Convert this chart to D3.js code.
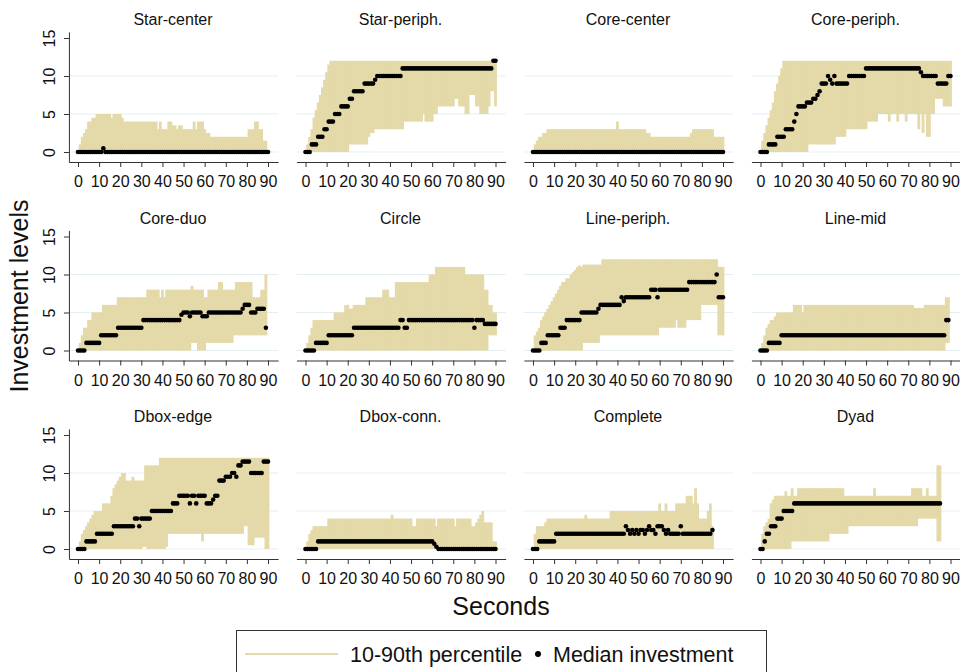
<!DOCTYPE html>
<html>
<head>
<meta charset="utf-8">
<script src="https://cdn.jsdelivr.net/npm/d3@7"></script>
<style>
  html, body { margin: 0; padding: 0; background: #fff; }
  svg { display: block; font-family: "Liberation Sans", Arial, sans-serif; }
</style>
</head>
<body>
<svg id="chart" width="960" height="672"></svg>
<script>
// ---------------- DATA (per second, t = 0,1,2,...) ----------------
const panelTitles = ["Star-center","Star-periph.","Core-center","Core-periph.",
                     "Core-duo","Circle","Line-periph.","Line-mid",
                     "Dbox-edge","Dbox-conn.","Complete","Dyad"];
const xTickValues = [0,10,20,30,40,50,60,70,80,90];
const yTickValues = [0,5,10,15];
const gridValues = [0,5,10];
const legendLabels = ["10-90th percentile","Median investment"];

// Star-center
const scUpper = [0,1,2,2.5,3,4,4,4.5,4.5,5, 5,5,5,5,5,5,4.5,5,5,5, 5,4.5,4,4,4,4,4,4,4,4, 4,4,4,4,4,4,4,4,3,4,
  3,3,3,4,4,3.5,3.5,3,3.5,3.5, 3,3,3,3,3,4,3,4,4,4, 3,2.5,2.5,2,2,2,2,2,2,2, 2,2,2,2,2,2,2,2,2,2,
  2,3,3,3,4,4,3,3,1.5,1.5, 0];
const scLower = [0,0,0,0,0,0,0,0,0,0, 0,0,0,0,0,0,0,0,0,0, 0,0,0,0,0,0,0,0,0,0, 0,0,0,0,0,0,0,0,0,0,
  0,0,0,0,0,0,0,0,0,0, 0,0,0,0,0,0,0,0,0,0, 0,0,0,0,0,0,0,0,0,0, 0,0,0,0,0,0,0,0,0,0, 0,0,0,0,0,0,0,0,0,0, 0];
const scMedian = [0,0,0,0,0,0,0,0,0,0, 0,0,0.5,0,0,0,0,0,0,0, 0,0,0,0,0,0,0,0,0,0, 0,0,0,0,0,0,0,0,0,0,
  0,0,0,0,0,0,0,0,0,0, 0,0,0,0,0,0,0,0,0,0, 0,0,0,0,0,0,0,0,0,0, 0,0,0,0,0,0,0,0,0,0, 0,0,0,0,0,0,0,0,0,0, 0];

// Star-periph.
const spUpper = [0,1,2,3,4.5,5.5,6.5,7.5,8.5,9.5, 10.5,11.5,12,12,12,12,12,12,12,12, 12,12,12,12,12,12,12,12,12,12,
  12,12,12,12,12,12,12,12,12,12, 12,12,12,12,12,12,12,12,12,12, 12,12,12,12,12,12,12,12,12,12,
  12,12,12,12,12,12,12,12,12,12, 12,12,12,12,12,12,12,12,12,12, 12,12,12,12,12,12,12,12,12,12, 12];
const spLower = [0,0,0,0,0,0,0,0,0,0, 0,0,0,0,0,0,0,0,0,0, 0,1,1,1,1,1,1,1,1,1, 2,2.5,2.5,3,3,3,3,3,3,3,
  3,3,3,3,3,3,3,4,4,4, 4,4,4,4,4,4,5,4,4,4, 4,5,5,6,6,6,6,6,6,6, 6,7,7,6,6,6,5,5,7.5,7.5,
  7.5,6,6,5,5,5,5,6,8,8, 6];
const spMedian = [0,0,0,1,1,1,2,2,2,3, 3,4,4,4,5,5,5,6,6,6, 6,7,7,8,8,8,8,8,9,9, 9,9,9,9.5,10,10,10,10,10,10,
  10,10,10,10,10,10,11,11,11,11, 11,11,11,11,11,11,11,11,11,11, 11,11,11,11,11,11,11,11,11,11,
  11,11,11,11,11,11,11,11,11,11, 11,11,11,11,11,11,11,11,11,12, 12];

// Core-center
const ccUpper = [0,1,1.5,2,2,2.5,2.5,3,3,3, 3,3,3,3,3,3,3,3,3,3, 3,3,3,3,3,3,3,3,3,3, 3,3,3,3,3,3,3,3,3,3,
  4,3,3,3,3,3,3,3,3,3, 3,3,3,3,2.5,2.5,2,2,2,2, 2,2,2,2,2,2,2,2,2,2, 2,2,2,2,2,2.5,3,3,3,3,
  3,3,3,3,3,3,2,2,2,2, 2];
const ccLower = [0,0,0,0,0,0,0,0,0,0, 0,0,0,0,0,0,0,0,0,0, 0,0,0,0,0,0,0,0,0,0, 0,0,0,0,0,0,0,0,0,0,
  0,0,0,0,0,0,0,0,0,0, 0,0,0,0,0,0,0,0,0,0, 0,0,0,0,0,0,0,0,0,0, 0,0,0,0,0,0,0,0,0,0, 0,0,0,0,0,0,0,0,0,0, 0];
const ccMedian = [0,0,0,0,0,0,0,0,0,0, 0,0,0,0,0,0,0,0,0,0, 0,0,0,0,0,0,0,0,0,0, 0,0,0,0,0,0,0,0,0,0,
  0,0,0,0,0,0,0,0,0,0, 0,0,0,0,0,0,0,0,0,0, 0,0,0,0,0,0,0,0,0,0, 0,0,0,0,0,0,0,0,0,0, 0,0,0,0,0,0,0,0,0,0, 0];

// Core-periph.
const cpUpper = [0,1.5,2.5,3.5,4.5,5.5,6.5,8,9,10, 11,12,12,12,12,12,12,12,12,12, 12,12,12,12,12,12,12,12,12,12,
  12,12,12,12,12,12,12,12,12,12, 12,12,12,12,12,12,12,12,12,12, 12,12,12,12,12,12,12,12,12,12,
  12,12,12,12,12,12,12,12,12,12, 12,12,12,12,12,12,12,12,12,12, 12,12,12,12,12,12,12,12,12,12, 12];
const cpLower = [0,0,0,0,0,0,0,0,0,0, 0,0,0,0,0,0,0,0,0,0, 0,0,0,1,1,1,1,1,1,1, 1,1,1,1,1,1,2,2,2,2,
  2,3,3,3,3,3,3,3,3,3, 3,4,4,4,4,4,5,5,5,5, 5,4,5,5,5,4,5,5,5,4, 5,5,5,5,5,3,5,2.5,5,2,
  2,5,5,7,7,7,7,6,6,6, 6];
const cpMedian = [0,0,0,0,1,1,1,1,2,2, 2,2,3,3,3,3,4,5,6,6, 6,6,6.5,6.5,6.5,7,7,7.5,8,9, 9,9,10,9.5,9,10,9,9,9,9,
  9,9,10,10,10,10,10,10,10,10, 11,11,11,11,11,11,11,11,11,11, 11,11,11,11,11,11,11,11,11,11,
  11,11,11,11,11,11,10.5,10,10,10, 10,10,10,10,9,9,9,9,9,10, 10];

// Core-duo (t = 0..89)
const cdUpper = [0,1,2,3,3,4,4,5,5,5, 5,5,6,6,6,6,6,6,6,7, 7,7,7,7,7,7,7,7,7,7, 7,7,7,8,8,8,8,8,8,7,
  8,7,8,8,8,8,8,8,8,8, 8,8,8,8,8.5,8,8,8,8,8, 7,7,8,8,8,8,8,9,9,8, 8,8,8,8,8,9,9,9,9,9,
  9,9,9,7,7,7,7,8,8,10];
const cdLower = [0,0,0,0,0,0,0,0,0,0, 0,0,0,0,0,0,0,0,0,0, 0,0,0,0,0,0,0,0,0,0, 0,0,0,0,0,0,0,0,0,0,
  0,0,0,0,0,0,0,0,0,0, 0,0,0,0,1,1,1,0,0,0, 0,1,1,1,1,1,1,1,1,1, 1,1,1,1,2,2,2,2,2,2,
  2,2,2,2,2,2,2,2,2,2];
const cdMedian = [0,0,0,0,1,1,1,1,1,1, 1,2,2,2,2,2,2,2,2,3, 3,3,3,3,3,3,3,3,3,3, 3,4,4,4,4,4,4,4,4,4,
  4,4,4,4,4,4,4,4,4,4.7, 5,5,5,4.5,5,5,5,5,5,4.5, 4.5,4.5,5,5,5,5,5,5,5,5, 5,5,5,5,5,5,5,5,5.5,6,
  6,6,5,5,5,5.5,5.5,5.5,5.5,3];

// Circle
const ciUpper = [0,1,2,3,4,4,4,4,4,4, 4,4,4,4,5,5,5,5,5,6, 6,5.5,5.5,6,6,6,6,6,6,7, 7,7,7,7,7,7,7,8,8,8,
  7,7,7,9,9,9,9,9,9,9, 9,9,9,9,9,9,9,9,9,10, 10,10,11,11,11,11,11,11,11,11, 11,11,11,11,11,11,10,10,10,10,
  10,10,10,10,10,8,8,6,6,5, 5];
const ciLower = [0,0,0,0,0,0,0,0,0,0, 0,0,0,0,0,0,0,0,0,0, 0,0,0,0,0,0,0,0,0,0, 0,0,0,0,0,0,0,0,0,0,
  0,0,0,0,0,0,0,0,0,0, 0,0,0,0,0,0,0,0,0,0, 0,0,0,0,0,0,0,0,0,0, 0,0,0,0,0,0,0,0,0,0,
  0,0,0,0,0,0,0,2,2,2, 2];
const ciMedian = [0,0,0,0,0,1,1,1,1,1, 1,2,2,2,2,2,2,2,2,2, 2,2,2,3,3,3,3,3,3,3, 3,3,3,3,3,3,3,3,3,3,
  3,3,3,3,3,4,4,3,3,4, 4,4,4,4,4,4,4,4,4,4, 4,4,4,4,4,4,4,4,4,4, 4,4,4,4,4,4,4,4,4,4,
  3,4,4,4,4,3.5,3.5,3.5,3.5,3.5, 3.5];

// Line-periph.
const lpUpper = [0,2,2.5,3,4,4.5,5,5.5,6,6.5, 7,7.5,8,8.5,9,9,9.5,9.5,10,10.3, 10.6,11,11.2,11,11.3,11.3,11.3,11.3,11.3,11.3,
  11.3,11.3,11.3,12,12,12,12,12,12,12, 12,12,12,12,12,12,12,12,12,12, 12,12,12,12,12,12,12,12,12,12,
  12,12,12,12,12,12,12,12,12,12, 12,12,12,12,12,12,12,12,12,12, 12,12,12,12,12,12,12,12,11,11, 11];
const lpLower = [0,0,0,0,0,0,0,0,0,0, 0,0,0,0,0,0,0,0,0,0, 0,0,0,0,1,1,1,1,1,1, 1,1,2,2,2,2,2,2,2,2,
  2,2,2,2,2,2,2,2,2,2, 2,2,2,2,2,2,2,2,2,2, 3,3,3,3,3,3,3,3,4,3, 3,3,3,4,4,4,4,4,4,4,
  6,6,6,6,6,6,6,6,2,2, 2];
const lpMedian = [0,0,0,0,1,1,1,2,2,2, 2,2,2,3,3,3,4,4,4,4, 4,4,4,5,5,5,5,5,5,5, 5,5.5,6,6,6,6,6,6,6,6,
  6,6,7,6.5,7,7,7,7,7,7, 7,7,7,7,7,7,8,8,8,7, 8,8,8,8,8,8,8,8,8,8, 8,8,8,8,9,9,9,9,9,9,
  9,9,9,9,9,9,9,10,7,7, 7];

// Line-mid (t = 0..89)
const lmUpper = [0,1,2,3,3.5,4,4,4.5,5,5, 5,5,5,5,5,5,6,6,6,6, 5,6,6,6,6,6,6,6,6,6, 6,6,6,6,6,6,6,6,6,6,
  6,6,6,6,6,6,6,6,6,6, 6,6,6,6,6,6,6,6,6,6, 6,6,6,6,6,6,6,6,6,6, 6,6,6,5.6,5.6,5.6,5.6,5.6,6,6,
  6,6,6,6,6,6,6,6,7,7];
const lmLower = [0,0,0,0,0,0,0,0,0,0, 0,0,0,0,0,0,0,0,0,0, 0,0,0,0,0,0,0,0,0,0, 0,0,0,0,0,0,0,0,0,0,
  0,0,0,0,0,0,0,0,0,0, 0,0,0,0,0,0,0,0,0,0, 0,0,0,0,0,0,0,0,0,0, 0,0,0,0,0,0,0,0,0,0,
  0,0,0,0,0,0,0,0,1,1];
const lmMedian = [0,0,0,0,1,1,1,1,1,1, 2,2,2,2,2,2,2,2,2,2, 2,2,2,2,2,2,2,2,2,2, 2,2,2,2,2,2,2,2,2,2,
  2,2,2,2,2,2,2,2,2,2, 2,2,2,2,2,2,2,2,2,2, 2,2,2,2,2,2,2,2,2,2, 2,2,2,2,2,2,2,2,2,2,
  2,2,2,2,2,2,2,2,4,4];

// Dbox-edge
const deUpper = [0,1,2,2.5,3,3.5,4,4.5,5,5, 5,5,6,6,6,6,7,8,8.5,9, 9.5,10,10,9,9,9,9.5,9,9,9,
  9,9,11,11,11,11,11,11,11,12, 12,12,12,12,12,12,12,12,12,12, 12,12,12,12,12,12,12,12,12,12,
  12,12,12,12,12,12,12,12,12,12, 12,12,12,12,12,12,12,12,12,12, 12,12,12,12,12,12,12,12,12,12, 12];
const deLower = [0,0,0,0,0,0,0,0,0,0, 0,0,0,0,0,0,0,0,0,0, 0,0,0,0,0,0,0,0,0,0, 0,0.3,0.3,0,0,0,0,0,0,0,
  0,0,0.3,2,2,2,2,2,2,2, 2,2,2,2,2,2,2,2,2,1, 2,2,2,2,2,2,2,2,2,2, 2,2,2,2,2,2,2,2,2,3,
  3,0.5,0.5,0.5,1.5,1.5,1.5,1.5,1.5,0, 0];
const deMedian = [0,0,0,0,1,1,1,1,1,2, 2,2,2,2,2,2,2,3,3,3, 3,3,3,3,3,3,3,4,4,3, 4,4,4,4,4,5,5,5,5,5,
  5,5,5,5,5,6,6,6,7,7, 7,7,7,6,7,7,6,7,7,7, 7,6,6,6,6.5,7,7,9,9,9, 9.5,9.5,9.5,10,10,9.5,11,11,11.5,11.5,
  11.5,11.5,10,10,10,10,10,10,11.5,11.5, 11.5];

// Dbox-conn.
const dcUpper = [0,1,2,2.5,3,3,3,3,3,3, 3,4,4,4,4,4,4,4,4,4, 4,4,4,4,4,4,4,4,4,4, 4,4,4,4,4,4,4,4,4,4,
  4,4.5,4,4,4,4,4,4,4,4, 4,3,3,4,4,4,4,4,4,4, 4,4,3,4,4,4,4,4,4,4, 4,3,4,4,4,4,4,4,4,3,
  3,3.5,4,4.5,5,3.5,3.5,3.5,3.5,1, 1];
const dcLower = [0,0,0,0,0,0,0,0,0,0, 0,0,0,0,0,0,0,0,0,0, 0,0,0,0,0,0,0,0,0,0, 0,0,0,0,0,0,0,0,0,0,
  0,0,0,0,0,0,0,0,0,0, 0,0,0,0,0,0,0,0,0,0, 0,0,0,0,0,0,0,0,0,0, 0,0,0,0,0,0,0,0,0,0, 0,0,0,0,0,0,0,0,0,0, 0];
const dcMedian = [0,0,0,0,0,0,1,1,1,1, 1,1,1,1,1,1,1,1,1,1, 1,1,1,1,1,1,1,1,1,1, 1,1,1,1,1,1,1,1,1,1,
  1,1,1,1,1,1,1,1,1,1, 1,1,1,1,1,1,1,1,1,1, 1,0.7,0.3,0,0,0,0,0,0,0, 0,0,0,0,0,0,0,0,0,0,
  0,0,0,0,0,0,0,0,0,0, 0];

// Complete (t = 0..85)
const coUpper = [0,2,3,3,3,3,3.5,4,4,4, 4,4,4,4,4,4,4,4,4,4, 4,4,4,4,4,4.5,4,4,4,4, 4,4,4,4,4,4,4,5,5,5,
  5,5,5,5,5,5,5,5,5,5, 5,5,5,5,5,5,5,5,5,5, 6,5,5,6,5,5,5,5,6,6, 6,6,6,7,7,7,6,8,6,4,
  4,4,4,5,6,3];
const coLower = [0,0,0,0,0,0,0,0,0,0, 0,0,0,0,0,0,0,0,0,0, 0,0,0,0,0,0,0,0,0,0, 0,0,0,0,0,0,0,0,0,0,
  0,0,0,0,0,0,0,0,0,0, 0,0,0,0,0,0,0,0,0,0, 0,0,0,0,0,0,0,0,0,0, 0,0,0,0,0,0,0,0,0,0, 0,0,0,0,0,0];
const coMedian = [0,0,0,1,1,1,1,1,1,1, 1,2,2,2,2,2,2,2,2,2, 2,2,2,2,2,2,2,2,2,2, 2,2,2,2,2,2,2,2,2,2,
  2,2,2,2,3,2.5,2,2.5,2,2.5, 2,2.5,2.5,2,2.5,3,2.5,2.5,2,3, 3,3,2.5,2,2.5,2,2,2,2,2, 3,2,2,2,2,2,2,2,2,2,
  2,2,2,2,2,2.5];

// Dyad (t = 0..85)
const dyUpper = [0,2,3,3.5,4,6,6.5,7,7,7, 7,7,7.6,7,7,8,7,7,8,8, 8,8,8,8,8,8,8,8,8,8, 8,8,8,8,8,8,8,8,8,8,
  7,7,7,7,7,7,7,7,7,7, 7,7,7,7,8,7,7,7,7,7, 7,7,7,7,7,7,7,7,7,7, 7,7,8,8,8,8,8,7,7,8,
  7,7,7,7,11,11];
const dyLower = [0,0,0,0,0,0,0,0,0,0, 0,0,0,0,0,1,1,1,1,1, 1,1,1,1,1,1,1,1,1,1, 1,1,1,2,2,2,2,2,2,2,
  2,2,3,3,3,3,3,3,3,3, 3,3,3,3,3,3,3,3,3,3, 3,3,3,3,3,3,3,3,3,3, 3,3,3,3,3,4,4,4,4,4,
  4,4,4,4,1,1];
const dyMedian = [0,0,1,2,2,3,3,3,4,4, 4,5,5,5,5,5,6,6,6,6, 6,6,6,6,6,6,6,6,6,6, 6,6,6,6,6,6,6,6,6,6,
  6,6,6,6,6,6,6,6,6,6, 6,6,6,6,6,6,6,6,6,6, 6,6,6,6,6,6,6,6,6,6, 6,6,6,6,6,6,6,6,6,6,
  6,6,6,6,6,6];

const panelLower  = [scLower, spLower, ccLower, cpLower, cdLower, ciLower, lpLower, lmLower, deLower, dcLower, coLower, dyLower];
const panelUpper  = [scUpper, spUpper, ccUpper, cpUpper, cdUpper, ciUpper, lpUpper, lmUpper, deUpper, dcUpper, coUpper, dyUpper];
const panelMedian = [scMedian, spMedian, ccMedian, cpMedian, cdMedian, ciMedian, lpMedian, lmMedian, deMedian, dcMedian, coMedian, dyMedian];

// ---------------- DRAWING ----------------
const BAND = "#e4d9a8";
const GRID = "#e6eff0";
const AXIS = "#333";
const TXT = "#111";
const FONT = '"Liberation Sans", Arial, sans-serif';

const svg = d3.select("#chart");
svg.append("rect").attr("width", 960).attr("height", 672).attr("fill", "#fff");

const colX0 = 78, colStep = 227.5, xSpan = 190;
const rowY0 = 152, rowStep = 198.5, ySpan = 114;
const xMin = -4.3, xMax = 94.8;
const yBot = -10 / 7.6, yTop = 15.8;

panelTitles.forEach((title, i) => {
  const col = i % 4, row = Math.floor(i / 4);
  const x0 = colX0 + colStep * col;
  const y0 = rowY0 + rowStep * row;
  const k = xSpan / 90;
  const x = d3.scaleLinear().domain([xMin, xMax]).range([x0 + xMin * k, x0 + xMax * k]);
  const y = d3.scaleLinear().domain([0, 15]).range([y0, y0 - ySpan]);
  const g = svg.append("g");

  // gridlines
  g.selectAll("line.grid").data(gridValues).join("line")
    .attr("x1", x(xMin)).attr("x2", x(xMax))
    .attr("y1", d => y(d)).attr("y2", d => y(d))
    .attr("stroke", GRID).attr("stroke-width", 1.2);

  const lower = panelLower[i], upper = panelUpper[i], median = panelMedian[i];
  const rows = upper.map((u, t) => ({t, lo: lower[t], hi: u, med: median[t]}));

  // percentile band (bars per second)
  g.selectAll("rect.band").data(rows.filter(d => d.hi > d.lo)).join("rect")
    .attr("x", d => x(d.t - 0.5) - 0.35)
    .attr("width", x(1) - x(0) + 0.7)
    .attr("y", d => y(d.hi))
    .attr("height", d => y(d.lo) - y(d.hi))
    .attr("fill", BAND);

  // median dots
  g.selectAll("circle.med").data(rows).join("circle")
    .attr("cx", d => x(d.t)).attr("cy", d => y(d.med))
    .attr("r", 2.3).attr("fill", "#000");

  // x axis
  const xAxis = d3.axisBottom(x).tickValues(xTickValues).tickSize(5).tickSizeOuter(0).tickFormat(d3.format("d"));
  const gx = svg.append("g").attr("transform", `translate(0,${y0 + 10})`).call(xAxis);
  gx.select(".domain").attr("stroke", AXIS).attr("stroke-width", 1);
  gx.selectAll(".tick line").attr("stroke", AXIS);
  gx.selectAll(".tick text").attr("y", 25).attr("dy", 0)
    .attr("font-size", 16).attr("font-family", FONT).attr("fill", TXT);

  // y axis (first column only)
  if (col === 0) {
    const yExt = d3.scaleLinear().domain([yBot, yTop]).range([y(yBot), y(yTop)]);
    const yAxis = d3.axisLeft(yExt).tickValues(yTickValues).tickSize(5).tickSizeOuter(0).tickFormat(d3.format("d"));
    const gy = svg.append("g").attr("transform", `translate(${x(xMin)},0)`).call(yAxis);
    gy.select(".domain").attr("stroke", AXIS).attr("stroke-width", 1);
    gy.selectAll(".tick line").attr("stroke", AXIS);
    gy.selectAll(".tick text")
      .attr("transform", "rotate(-90)")
      .attr("x", 0).attr("y", -13.5).attr("dy", 0)
      .attr("text-anchor", "middle")
      .attr("font-size", 16).attr("font-family", FONT).attr("fill", TXT);
  }

  // panel title
  svg.append("text")
    .attr("x", x(45)).attr("y", y0 - 127)
    .attr("text-anchor", "middle")
    .attr("font-size", 16).attr("font-family", FONT).attr("fill", TXT)
    .text(title);
});

// axis titles
svg.append("text")
  .attr("transform", "translate(28,296) rotate(-90)")
  .attr("text-anchor", "middle")
  .attr("font-size", 25).attr("font-family", FONT).attr("fill", TXT)
  .text("Investment levels");
svg.append("text")
  .attr("x", 501).attr("y", 615)
  .attr("text-anchor", "middle")
  .attr("font-size", 25).attr("font-family", FONT).attr("fill", TXT)
  .text("Seconds");

// legend
const lg = svg.append("g");
lg.append("rect").attr("x", 236.5).attr("y", 630.5).attr("width", 530).attr("height", 60)
  .attr("fill", "#fff").attr("stroke", "#333").attr("stroke-width", 1);
lg.append("line").attr("x1", 245).attr("x2", 338).attr("y1", 654).attr("y2", 654)
  .attr("stroke", BAND).attr("stroke-width", 2);
lg.append("text").attr("x", 350).attr("y", 662)
  .attr("font-size", 21.5).attr("font-family", FONT).attr("fill", TXT).text(legendLabels[0]);
lg.append("circle").attr("cx", 538).attr("cy", 654).attr("r", 3).attr("fill", "#000");
lg.append("text").attr("x", 553).attr("y", 662)
  .attr("font-size", 21.5).attr("font-family", FONT).attr("fill", TXT).text(legendLabels[1]);
</script>
</body>
</html>
